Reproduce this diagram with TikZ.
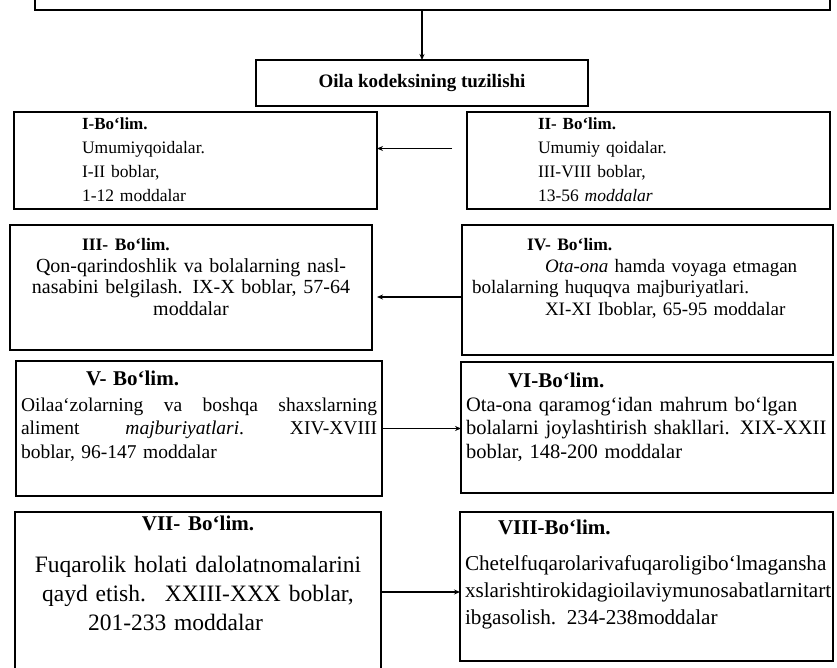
\documentclass[tikz,border=0pt]{standalone}
\usepackage{fontspec}
\setmainfont{Liberation Serif}
\usetikzlibrary{arrows.meta, positioning}
\newcommand{\hdr}[2]{{\fontsize{#1}{#1}\selectfont\bfseries #2}}
\newcommand{\topgap}[1]{\rule{0pt}{#1}}
\newcommand{\botgap}[1]{\rule[-#1]{0pt}{#1}}
\tikzset{
  frame/.style={
    rectangle,
    draw,
    line width=2.5pt,
    anchor=north west,
    inner xsep=5pt,
    inner ysep=0pt,
    outer sep=0pt
  },
  part/.style={
    frame,
    align=left
  },
  arrow/.style={-{Stealth[length=6pt, width=5pt]}, line width=1.3pt}
}

\begin{document}
\begin{tikzpicture}[x=1pt, y=1pt]
  \useasboundingbox (0,0) rectangle (837,-668);

  \node[frame, anchor=south west, minimum width=795pt, minimum height=40pt] (code) at (35,-10) {};

  \node[frame, align=center, inner ysep=4pt, minimum width=332pt, minimum height=46pt,
        font=\fontsize{19}{19}\selectfont\bfseries] (struct) at (256,-60)
  {Oila kodeksining tuzilishi};

  \node[part, text width=353pt, font=\fontsize{17.5}{24}\selectfont] (i) at (14,-112)
  {\topgap{18pt}\hspace*{63pt}\hdr{17}{I-Bo‘lim.}\\
   \hspace*{63pt}Umumiyqoidalar.\\
   \hspace*{63pt}I-II boblar,\\
   \hspace*{63pt}1-12 moddalar\botgap{7pt}};

  \node[part, right=90pt of i.north east, anchor=north west, text width=353pt,
        font=\fontsize{17.5}{24}\selectfont] (ii)
  {\topgap{18pt}\hspace*{66pt}\hdr{17}{II- Bo‘lim.}\\
   \hspace*{66pt}Umumiy qoidalar.\\
   \hspace*{66pt}III-VIII boblar,\\
   \hspace*{66pt}13-56 \textit{moddalar}\botgap{7pt}};

  \node[part, align=center, text width=352pt, font=\fontsize{20}{21.5}\selectfont] (iii) at (10,-225)
  {\makebox[\linewidth][l]{\topgap{26pt}\hspace*{67pt}\hdr{17.5}{III- Bo‘lim.}}\\
   Qon-qarindoshlik va bolalarning nasl-\\
   nasabini belgilash. IX-X boblar, 57-64\\
   moddalar\botgap{34.5pt}};

  \node[part, right=90pt of iii.north east, anchor=north west, text width=361pt,
        font=\fontsize{19}{21.5}\selectfont] (iv)
  {\topgap{26pt}\hspace*{60pt}\hdr{17.5}{IV- Bo‘lim.}\\
   \hspace*{78pt}\textit{Ota-ona} hamda voyaga etmagan\\
   \hspace*{5pt}bolalarning huquqva majburiyatlari.\\
   \hspace*{78pt}XI-XI Iboblar, 65-95 moddalar\botgap{39.5pt}};

  \node[part, text width=356pt, font=\fontsize{19.5}{23.5}\selectfont] (v) at (16,-361)
  {\topgap{24pt}\hspace*{65pt}\hdr{21}{V- Bo‘lim.}\\[2.5pt]
   Oilaa`zolarning\hfill va\hfill boshqa\hfill shaxslarning\\
   aliment\hfill \textit{majburiyatlari}.\hfill XIV-XVIII\\
   boblar, 96-147 moddalar\botgap{38pt}};

  \node[part, right=79pt of v.north east, anchor=north west, yshift=-1pt, text width=362pt,
        font=\fontsize{20.5}{23.5}\selectfont] (vi)
  {\topgap{25pt}\hspace*{42pt}\hdr{21}{VI-Bo‘lim.}\\[0.5pt]
   Ota-ona qaramog‘idan mahrum bo‘lgan\\
   bolalarni joylashtirish shakllari. XIX-XXII\\
   boblar, 148-200 moddalar\botgap{35pt}};

  \node[part, align=center, text width=356pt, font=\fontsize{23.5}{29}\selectfont] (vii) at (15,-512)
  {\topgap{18pt}\hdr{21}{VII- Bo‘lim.}\\[13pt]
   Fuqarolik holati dalolatnomalarini\\
   qayd etish.\hspace{0.3em} XXIII-XXX boblar,\\
   \makebox[\linewidth][l]{\hspace*{68pt}201-233 moddalar}\botgap{60pt}};

  \node[part, right=79pt of vii.north east, anchor=north west, text width=363pt,
        font=\fontsize{21.2}{27}\selectfont] (viii)
  {\topgap{22pt}\hspace*{33pt}\hdr{21}{VIII-Bo‘lim.}\\[9pt]
   Chetelfuqarolarivafuqaroligibo‘lmagansha\\
   xslarishtirokidagioilaviymunosabatlarnitart\\
   ibgasolish. 234-238moddalar\botgap{37pt}};

  \draw[arrow] (code.south -| struct.north) -- (struct.north);
  \draw[arrow, shorten <=15pt] ([yshift=12pt]ii.west) -- ([yshift=12pt]ii.west -| i.east);
  \draw[arrow, shorten >=5pt] ([yshift=-7pt]iv.west) -- ([yshift=-7pt]iv.west -| iii.east);
  \draw[arrow] (v.east) -- (v.east -| vi.west);
  \draw[arrow] ([yshift=-5.5pt]viii.west -| vii.east) -- ([yshift=-5.5pt]viii.west);
\end{tikzpicture}
\end{document}
